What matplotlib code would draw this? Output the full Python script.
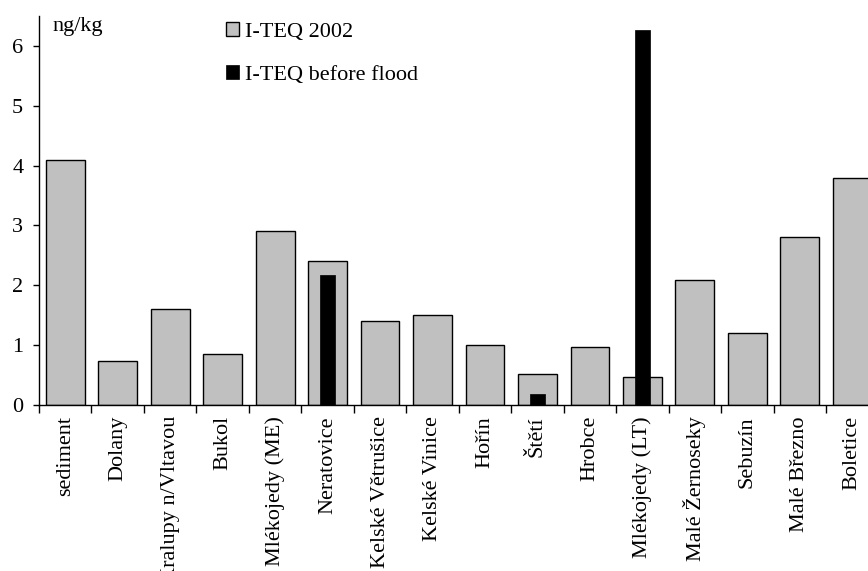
import numpy as np
import matplotlib.pyplot as plt

sites = ['sediment', 'Dolany', 'Kralupy n/Vltavou', 'Bukol', 'Mlékojedy (ME)',
         'Neratovice', 'Kelské Větrušice', 'Kelské Vinice', 'Hořín', 'Štětí',
         'Hrobce', 'Mlékojedy (LT)', 'Malé Žernoseky', 'Sebuzín', 'Malé Březno',
         'Boletice']
teq_2002 = [4.1, 0.73, 1.6, 0.85, 2.91, 2.4, 1.41, 1.5, 1.01, 0.51,
            0.97, 0.47, 2.09, 1.2, 2.8, 3.8]
teq_before = [0, 0, 0, 0, 0, 2.18, 0, 0, 0, 0.19, 0, 6.27, 0, 0, 0, 0]

plt.rcParams['font.family'] = ['Liberation Serif', 'DejaVu Serif']

fig = plt.figure(figsize=(8.68, 5.71), dpi=100)
ax = fig.add_axes([39 / 868, 1 - 405 / 571, 839.5 / 868, 389 / 571])

x = np.arange(len(sites))
ax.bar(x, teq_2002, width=0.74, color='#c0c0c0', edgecolor='black',
       linewidth=1, label='I-TEQ 2002')
before = np.array(teq_before)
mask = before > 0
ax.bar(x[mask], before[mask], width=0.3, color='black', edgecolor='black',
       linewidth=0.5, label='I-TEQ before flood')

ax.set_xlim(-0.5, len(sites) - 0.5)
ax.set_ylim(0, 6.5)
ax.set_yticks(range(7))
ax.tick_params(axis='y', labelsize=16, direction='out', length=4.3, width=1, pad=7)

ax.set_xticks(x)
ax.set_xticklabels(sites, rotation=90, fontsize=16)
ax.tick_params(axis='x', which='major', length=0, pad=8)
ax.set_xticks(np.arange(-0.5, len(sites), 1), minor=True)
ax.tick_params(axis='x', which='minor', length=5.5, width=1, direction='out')

for side in ['top', 'right']:
    ax.spines[side].set_visible(False)
ax.spines['left'].set_linewidth(1)
ax.spines['bottom'].set_linewidth(1)

fig.text(52 / 868, 1 - 26 / 571, 'ng/kg', fontsize=16, va='center', ha='left')

ax.legend(loc='upper left', bbox_to_anchor=(226 / 868, 1 - 22 / 571),
          bbox_transform=fig.transFigure, frameon=False, fontsize=16,
          handlelength=0.6, handleheight=0.6, handletextpad=0.25,
          labelspacing=1.05, borderpad=0, borderaxespad=0)

fig.savefig('out.png', dpi=100)
